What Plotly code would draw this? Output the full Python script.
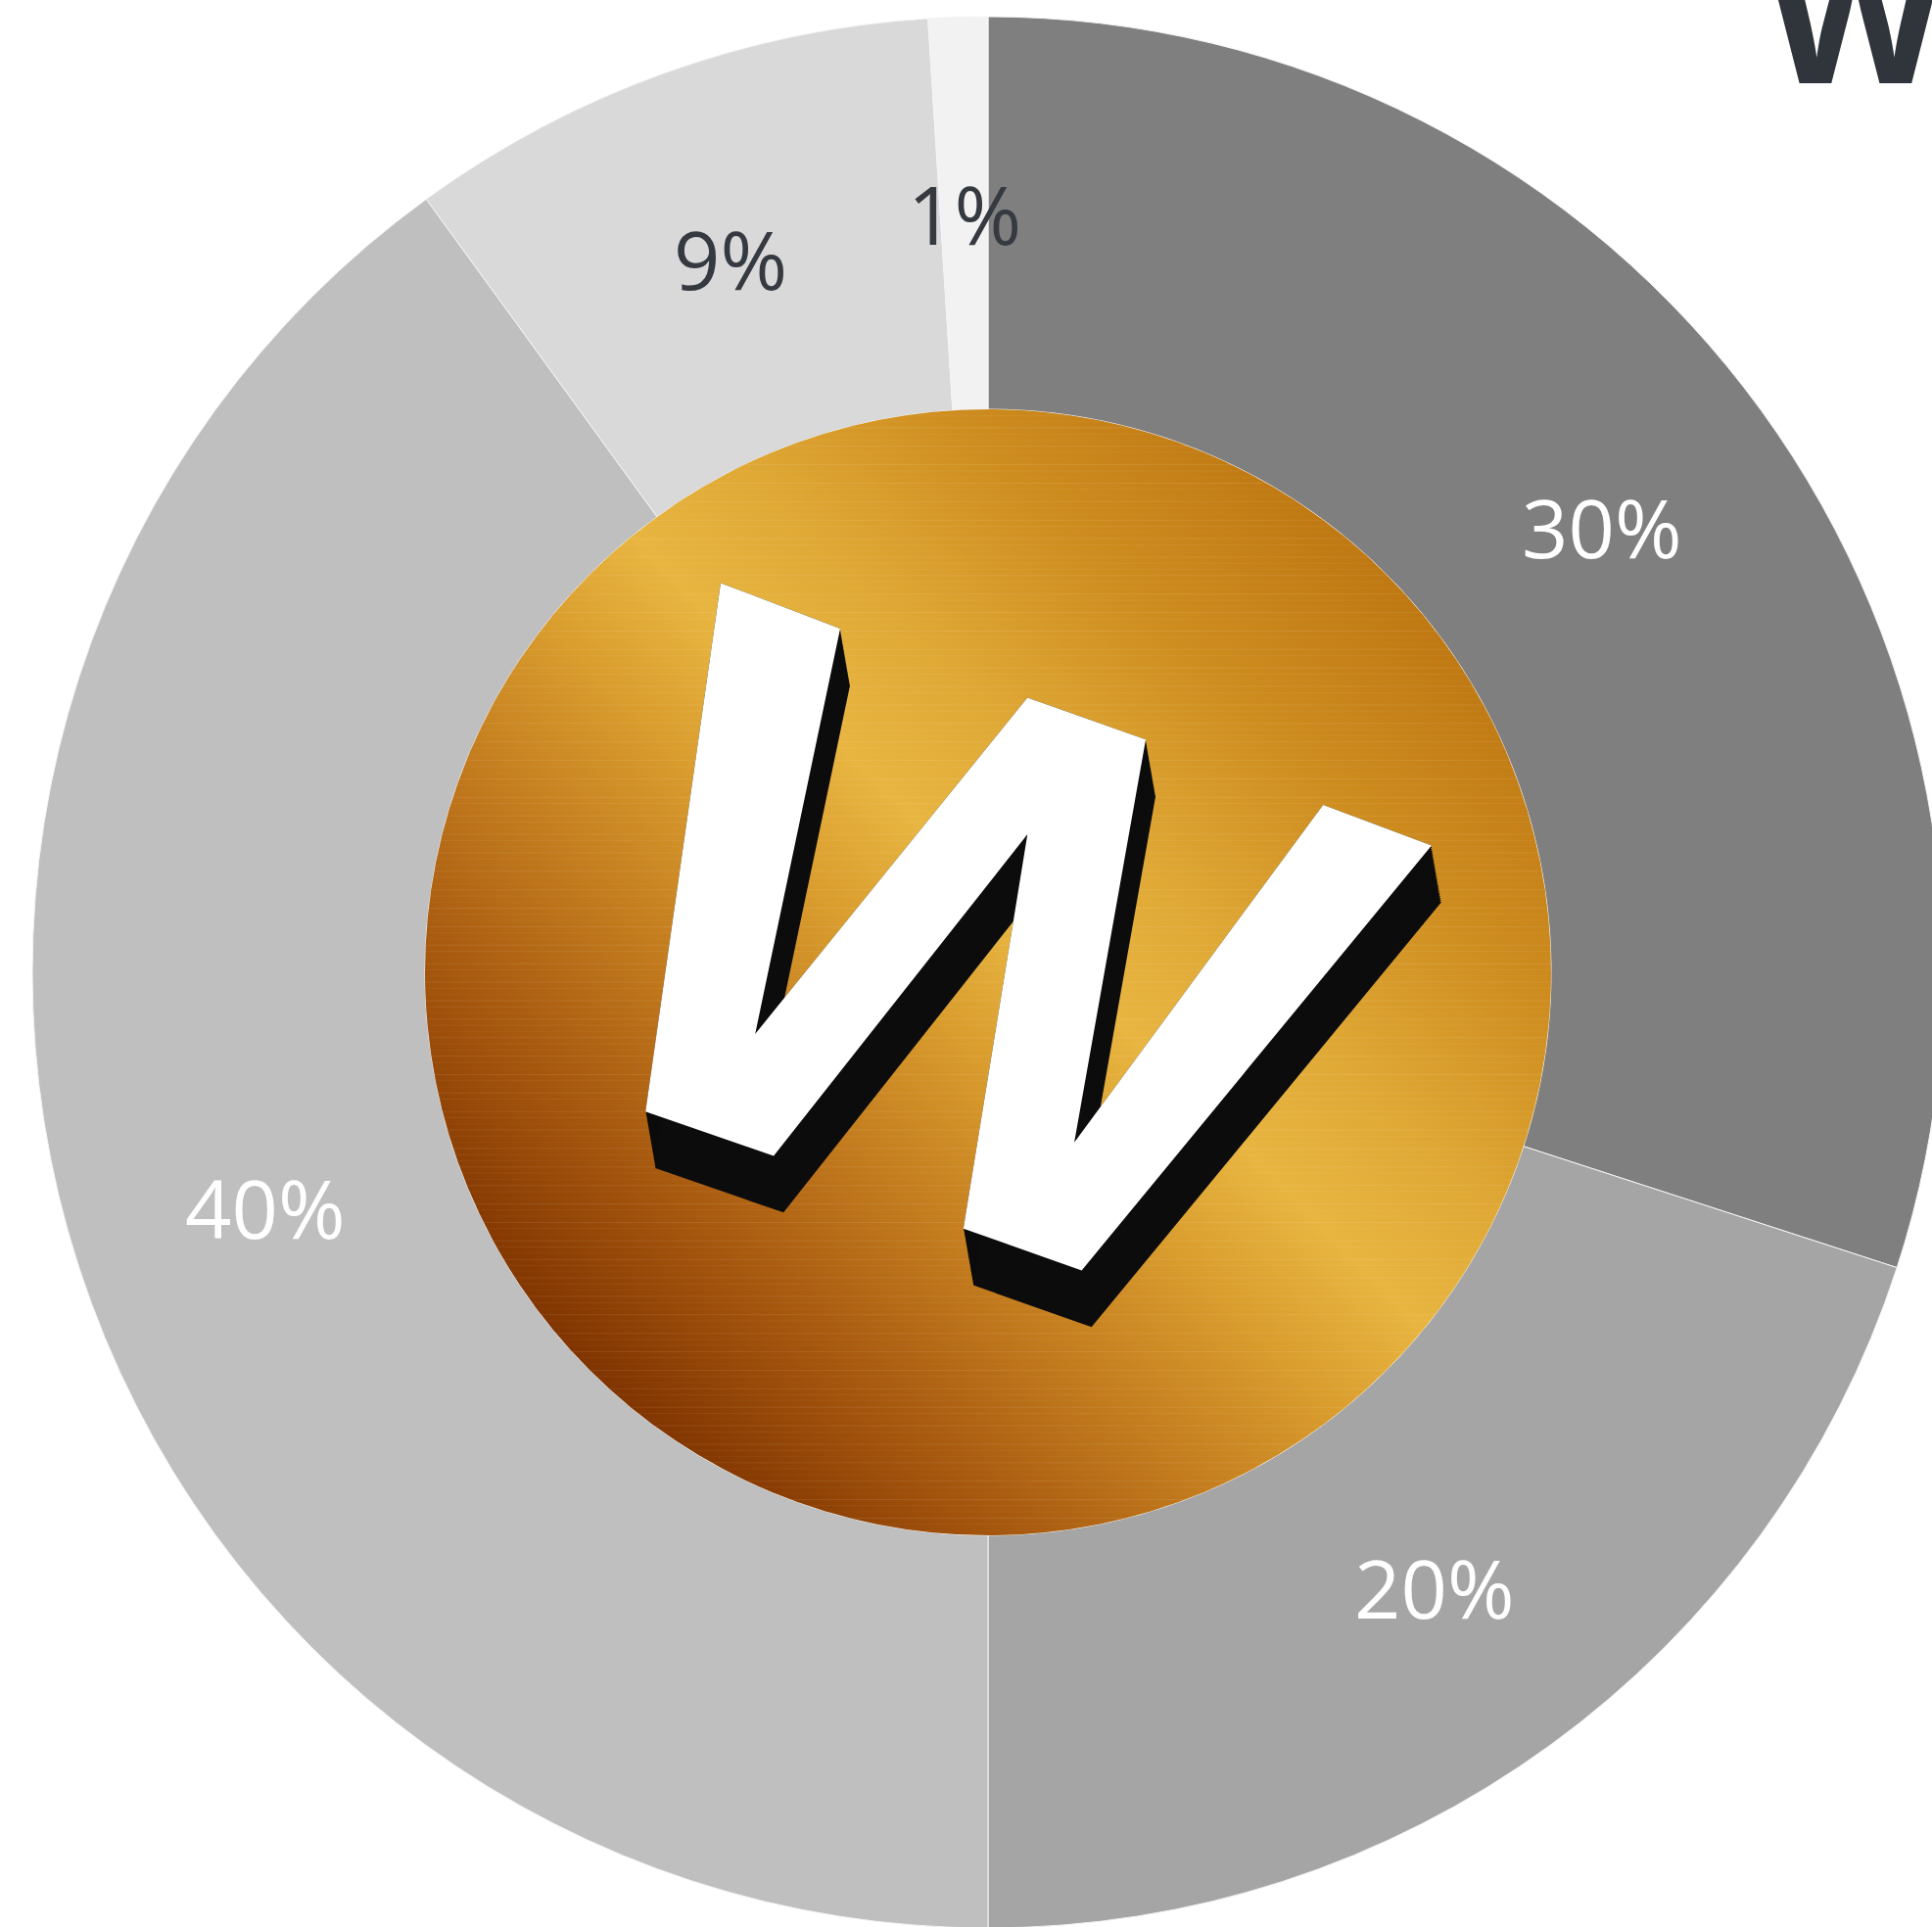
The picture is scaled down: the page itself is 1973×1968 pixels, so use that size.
import math
import base64
import plotly.graph_objects as go

# ---------------- data ----------------
categories = ["Segment A", "Segment B", "Segment C", "Segment D", "Segment E"]
values = [30, 20, 40, 9, 1]
label_texts = ["30%", "20%", "40%", "9%", "1%"]
slice_colors = ["#7f7f7f", "#a5a5a5", "#bfbfbf", "#d9d9d9", "#f2f2f2"]
label_colors = ["#ffffff", "#ffffff", "#ffffff", "#343a40", "#343a40"]

# ---------------- geometry (pixels) ----------------
FIG_W, FIG_H = 2005, 1989
M_L, M_T = 33, 17
SIDE = 1952                      # square plot area -> pie radius 976
M_R = FIG_W - M_L - SIDE
M_B = FIG_H - M_T - SIDE
HOLE = 575 / 976


def px_to_paper(px, py):
    return (px - M_L) / SIDE, 1 - (py - M_T) / SIDE


fig = go.Figure(
    go.Pie(
        labels=categories,
        values=values,
        sort=False,
        direction="clockwise",
        rotation=0,
        hole=HOLE,
        textinfo="none",
        hoverinfo="label+percent",
        marker=dict(colors=slice_colors, line=dict(color="#f4f4f4", width=1)),
        domain=dict(x=[0, 1], y=[0, 1]),
    )
)

# ---------------- percentage labels at mid-ring / mid-angle ----------------
total = sum(values)
rmid = (1 + HOLE) / 2
annotations = []
cum = 0
for v, t, c in zip(values, label_texts, label_colors):
    theta = math.radians((cum + v / 2) / total * 360)
    cum += v
    annotations.append(
        dict(
            x=0.5 + 0.5 * rmid * math.sin(theta),
            y=0.5 + 0.5 * rmid * math.cos(theta),
            xref="paper", yref="paper",
            text=t, showarrow=False,
            xanchor="center", yanchor="middle",
            font=dict(family="Open Sans", size=83, color=c),
        )
    )

# partially visible title letter at top right
wx, wy = px_to_paper(1801, 85 - 0.388 * 190)
annotations.append(
    dict(
        x=wx, y=wy, xref="paper", yref="paper",
        text="W", showarrow=False, xanchor="left", yanchor="middle",
        font=dict(family="Open Sans", size=190, color="#2f353a", weight=700),
    )
)

# ---------------- centre logo (gold disc with extruded W) ----------------
cx, cy, r = 802, 789, 457
d = r / math.sqrt(2)
w_pts = [(585, 473), (682, 510), (613, 839), (834, 566), (930, 600), (872, 927),
         (1074, 653), (1162, 686), (878, 1031), (782, 997), (834, 677),
         (628, 938), (524, 902)]


def poly(pts, dx=0.0, dy=0.0):
    return "M" + " L".join(f"{x + dx:.2f},{y + dy:.2f}" for x, y in pts) + " Z"


shadow = "".join(
    f'<path d="{poly(w_pts, 8 * k / 30, 46 * k / 30)}"/>' for k in range(31)
)
lines = "".join(
    f'<line x1="{cx - r}" x2="{cx + r}" y1="{y}" y2="{y}" stroke="#ffffff" '
    f'stroke-opacity="{0.03 + 0.03 * ((y * 7) % 3)}" stroke-width="0.8"/>'
    for y in range(cy - r, cy + r, 5)
)
svg = f'''<svg xmlns="http://www.w3.org/2000/svg" viewBox="{cx - r} {cy - r} {2 * r} {2 * r}" width="1150" height="1150">
<defs>
<linearGradient id="g" gradientUnits="userSpaceOnUse" x1="{cx - d:.1f}" y1="{cy + d:.1f}" x2="{cx + d:.1f}" y2="{cy - d:.1f}">
<stop offset="0" stop-color="#803400"/>
<stop offset="0.14" stop-color="#a2530c"/>
<stop offset="0.3" stop-color="#c27a1d"/>
<stop offset="0.44" stop-color="#d99c2d"/>
<stop offset="0.55" stop-color="#e8b540"/>
<stop offset="0.66" stop-color="#e0a936"/>
<stop offset="0.82" stop-color="#cf8e20"/>
<stop offset="1" stop-color="#bf7812"/>
</linearGradient>
<clipPath id="c"><circle cx="{cx}" cy="{cy}" r="{r}"/></clipPath>
</defs>
<circle cx="{cx}" cy="{cy}" r="{r}" fill="url(#g)"/>
<g clip-path="url(#c)">{lines}</g>
<g fill="#0c0c0c">{shadow}</g>
<path d="{poly(w_pts)}" fill="#ffffff"/>
</svg>'''
src = "data:image/svg+xml;base64," + base64.b64encode(svg.encode()).decode()

img_size = 2 * 575 / SIDE
fig.add_layout_image(
    dict(
        source=src, xref="paper", yref="paper", x=0.5, y=0.5,
        sizex=img_size, sizey=img_size, xanchor="center", yanchor="middle",
        sizing="stretch", layer="above",
    )
)

fig.update_layout(
    width=FIG_W, height=FIG_H,
    margin=dict(l=M_L, r=M_R, t=M_T, b=M_B, pad=0, autoexpand=False),
    showlegend=False,
    paper_bgcolor="#ffffff",
    plot_bgcolor="#ffffff",
    annotations=annotations,
)

post = (
    "var gd=document.getElementById('{plot_id}');var p=gd.parentElement;"
    "document.documentElement.style.overflow='hidden';"
    "document.body.style.margin='0';document.body.style.overflow='hidden';"
    "p.style.width='1973px';p.style.height='1968px';p.style.overflow='hidden';"
)
fig.write_html("out.html", config={"displayModeBar": False, "responsive": False},
               post_script=post)
